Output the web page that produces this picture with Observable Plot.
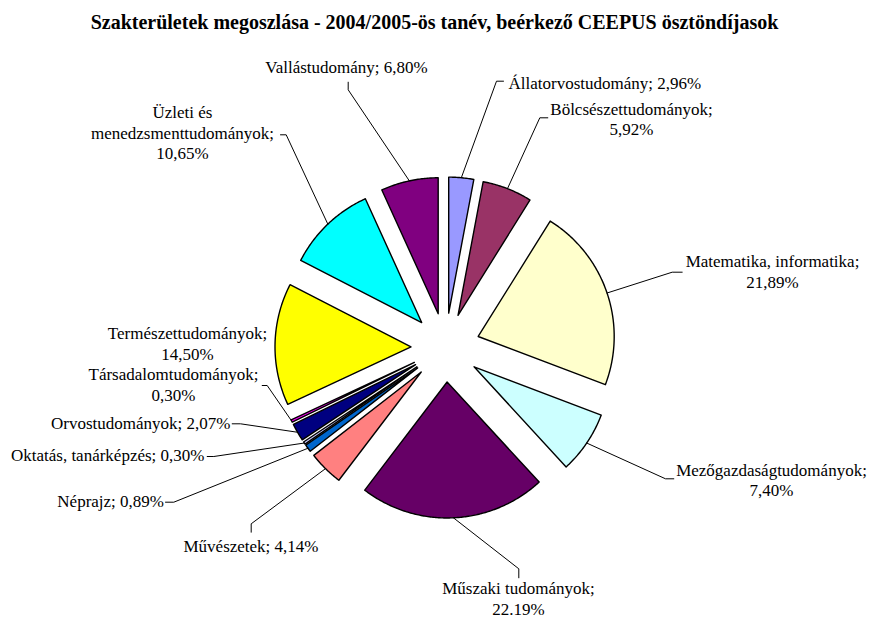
<!DOCTYPE html>
<html><head><meta charset="utf-8">
<script src="https://cdn.jsdelivr.net/npm/d3@7"></script>
<script src="https://cdn.jsdelivr.net/npm/@observablehq/plot@0.6"></script>
<style>
body{margin:0;background:#fff;}
#title{height:40px;box-sizing:border-box;padding-top:11px;text-align:center;font:bold 20px "Liberation Serif","Times New Roman",serif;line-height:22px;color:#000;white-space:nowrap;}
#chart{width:869px;height:579px;}
</style></head><body>
<div id="title">Szakterületek megoszlása - 2004/2005-ös tanév, beérkező CEEPUS ösztöndíjasok</div>
<div id="chart"></div>
<script>
// ---- data ----
const categories = [
  "Állatorvostudomány", "Bölcsészettudományok", "Matematika, informatika",
  "Mezőgazdaságtudományok", "Műszaki tudományok", "Művészetek", "Néprajz",
  "Oktatás, tanárképzés", "Orvostudományok", "Társadalomtudományok",
  "Természettudományok", "Üzleti és menedzsmenttudományok", "Vallástudomány"
];
const shares = [2.96, 5.92, 21.89, 7.40, 22.19, 4.14, 0.89, 0.30, 2.07, 0.30, 14.50, 10.65, 6.80];
const shareLabels = ["2,96%", "5,92%", "21,89%", "7,40%", "22.19%", "4,14%", "0,89%", "0,30%", "2,07%", "0,30%", "14,50%", "10,65%", "6,80%"];
const colors = ["#9999FF", "#993366", "#FFFFCC", "#CCFFFF", "#660066", "#FF8080", "#0066CC",
  "#CCCCFF", "#000080", "#FF00FF", "#FFFF00", "#00FFFF", "#800080"];

// ---- layout (pixel offsets from the pie centre) ----
const W = 869, H = 579, CX = 445, CY = 307;
const R = 136, EXPLODE = 34.5, LINE = 20.5;
// wrap: "one" = "name; value", "two" = "name;" / "value", n = break name after n words
const labelLayout = [
  {wrap: "one", dx: 63,    dy: -259,   anchor: "start",  elbow: [51, -266.3],  end: [58, -266.3]},
  {wrap: "two", dx: 186,   dy: -233,   anchor: "middle", elbow: [94.3, -229.7], end: [102.3, -229.7]},
  {wrap: "two", dx: 327,   dy: -80.5,  anchor: "middle", elbow: [226.7, -75.3], end: [236.7, -75.3]},
  {wrap: "two", dx: 326,   dy: 128,    anchor: "middle", elbow: [220, 131.3],   end: [228.3, 131.3]},
  {wrap: "two", dx: 73,    dy: 246.5,  anchor: "middle", elbow: [73.3, 221.3],  end: [73.3, 230.3]},
  {wrap: "one", dx: -194.5,dy: 204.5,  anchor: "middle", elbow: [-194.3, 176.3], end: [-194.3, 184.7]},
  {wrap: "one", dx: -281.5,dy: 159.5,  anchor: "end",    elbow: [-271.7, 154.7], end: [-280, 154.7]},
  {wrap: "one", dx: -241,  dy: 113,    anchor: "end",    elbow: [-231.7, 109],  end: [-238.3, 109]},
  {wrap: "one", dx: -215,  dy: 81,     anchor: "end",    elbow: [-205, 76.3],   end: [-213.3, 76.3]},
  {wrap: "two", dx: -272,  dy: 32.5,   anchor: "middle", elbow: [-178.3, 38],   end: [-183.3, 38]},
  {wrap: "two", dx: -258,  dy: -8.5,   anchor: "middle", elbow: null,           end: null},
  {wrap: 2,     dx: -263,  dy: -229.5, anchor: "middle", elbow: [-159.3, -212.7], end: [-165, -212.7]},
  {wrap: "one", dx: -99,   dy: -275,   anchor: "middle", elbow: [-97.3, -257.7], end: [-97.3, -265.3]}
];

// ---- geometry from the values ----
const arcs = d3.pie().sort(null).value(d => d)(shares);
const slicePts = [], leaderPts = [], textRows = [];
arcs.forEach((a, i) => {
  const mid = (a.startAngle + a.endAngle) / 2;
  const ox = EXPLODE * Math.sin(mid), oy = -EXPLODE * Math.cos(mid);
  slicePts.push({k: i, x: ox, y: oy, fill: colors[i]});
  const n = Math.max(2, Math.ceil((a.endAngle - a.startAngle) / 0.01));
  for (let j = 0; j <= n; j++) {
    const t = a.startAngle + (a.endAngle - a.startAngle) * j / n;
    slicePts.push({k: i, x: ox + R * Math.sin(t), y: oy - R * Math.cos(t), fill: colors[i]});
  }
  const L = labelLayout[i];
  if (L.elbow) {
    leaderPts.push({k: i, x: (R + EXPLODE) * Math.sin(mid), y: -(R + EXPLODE) * Math.cos(mid)});
    leaderPts.push({k: i, x: L.elbow[0], y: L.elbow[1]});
    leaderPts.push({k: i, x: L.end[0], y: L.end[1]});
  }
  let lines;
  if (L.wrap === "one") lines = [`${categories[i]}; ${shareLabels[i]}`];
  else if (L.wrap === "two") lines = [`${categories[i]};`, shareLabels[i]];
  else {
    const w = categories[i].split(" ");
    lines = [w.slice(0, L.wrap).join(" "), w.slice(L.wrap).join(" ") + ";", shareLabels[i]];
  }
  lines.forEach((s, j) => textRows.push({text: s, x: L.dx, y: L.dy + j * LINE, anchor: L.anchor}));
});

const chart = Plot.plot({
  width: W, height: H, margin: 0,
  x: {domain: [-CX, W - CX], range: [0, W], axis: null},
  y: {domain: [-CY, H - CY], range: [0, H], axis: null},
  color: {type: "identity"},
  style: {fontFamily: "'Liberation Serif','Times New Roman',serif", background: "#fff"},
  marks: [
    Plot.line(slicePts, {x: "x", y: "y", z: "k", fill: "fill", stroke: "#000", strokeWidth: 1.4, curve: "linear-closed", strokeLinejoin: "round"}),
    Plot.line(leaderPts, {x: "x", y: "y", z: "k", stroke: "#000", strokeWidth: 1}),
    ...["start", "middle", "end"].map(an => Plot.text(textRows.filter(d => d.anchor === an), {
      x: "x", y: "y", text: "text", textAnchor: an, lineAnchor: "bottom", fontSize: 17, fill: "#000"
    }))
  ]
});
document.getElementById("chart").appendChild(chart);
</script>
</body></html>
